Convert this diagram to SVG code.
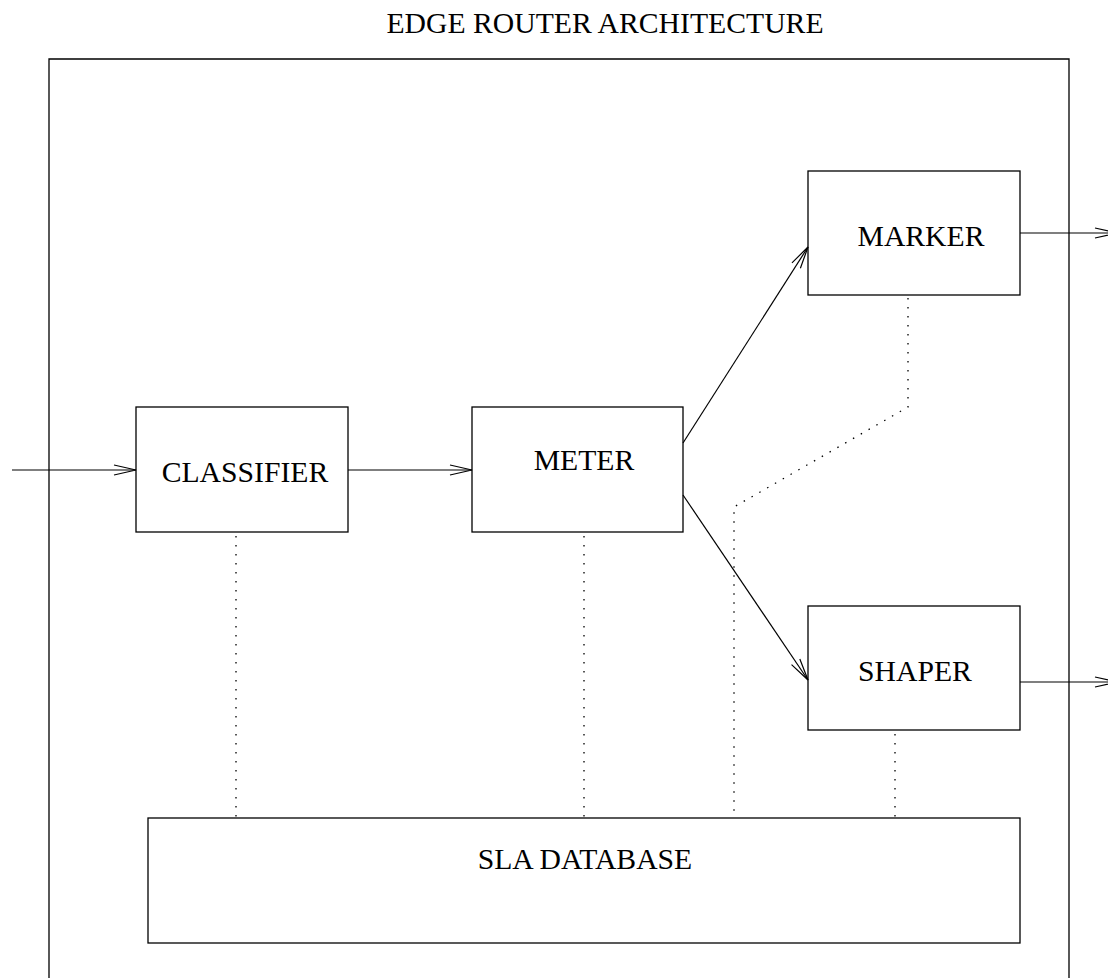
<svg xmlns="http://www.w3.org/2000/svg" width="1108" height="978" viewBox="0 0 1108 978">
<style>
  .box { fill: none; stroke: #000; stroke-width: 1.3; }
  .lbl { font-family: "Liberation Serif", "Times New Roman", serif; font-size: 29.7px; fill: #000; text-anchor: middle; }
  .conn { fill: none; stroke: #000; stroke-width: 1.2; }
  .dot { fill: none; stroke: #000; stroke-width: 1.3; stroke-dasharray: 1.5 7.5; }
</style>
<defs>
  <marker id="arr" viewBox="0 0 22 10" refX="22" refY="5" markerWidth="22" markerHeight="10" orient="auto" markerUnits="userSpaceOnUse" overflow="visible">
    <path d="M0,0 L22,5 L0,10" fill="none" stroke="#000" stroke-width="1.2"/>
  </marker>
</defs>
<rect width="1108" height="978" fill="#fff"/>
<text class="lbl" x="605" y="33">EDGE ROUTER ARCHITECTURE</text>
<g id="router">
  <path class="box" d="M49,990 L49,59 L1069,59 L1069,990"/>
</g>
<g id="classifier">
  <rect class="box" x="136" y="407" width="212" height="125"/>
  <text class="lbl" x="245" y="482">CLASSIFIER</text>
</g>
<g id="meter">
  <rect class="box" x="472" y="407" width="211" height="125"/>
  <text class="lbl" x="584" y="470">METER</text>
</g>
<g id="marker">
  <rect class="box" x="808" y="171" width="212" height="124"/>
  <text class="lbl" x="921" y="246">MARKER</text>
</g>
<g id="shaper">
  <rect class="box" x="808" y="606" width="212" height="124"/>
  <text class="lbl" x="915" y="681">SHAPER</text>
</g>
<g id="sla">
  <rect class="box" x="148" y="818" width="872" height="125"/>
  <text class="lbl" x="585" y="869">SLA DATABASE</text>
</g>
<g id="connectors">
  <line class="conn" x1="12" y1="470" x2="136" y2="470" marker-end="url(#arr)"/>
  <line class="conn" x1="348" y1="470" x2="472" y2="470" marker-end="url(#arr)"/>
  <line class="conn" x1="683" y1="443" x2="808" y2="247" marker-end="url(#arr)"/>
  <line class="conn" x1="683" y1="495" x2="808" y2="680" marker-end="url(#arr)"/>
  <line class="conn" x1="1020" y1="233" x2="1117" y2="233" marker-end="url(#arr)"/>
  <line class="conn" x1="1020" y1="682" x2="1117" y2="682" marker-end="url(#arr)"/>
  <line class="dot" x1="236" y1="536" x2="236" y2="818"/>
  <line class="dot" x1="584" y1="536" x2="584" y2="818"/>
  <polyline class="dot" points="908,298 908,407 734,507 734,818"/>
  <line class="dot" x1="895" y1="734" x2="895" y2="818"/>
</g>
</svg>
